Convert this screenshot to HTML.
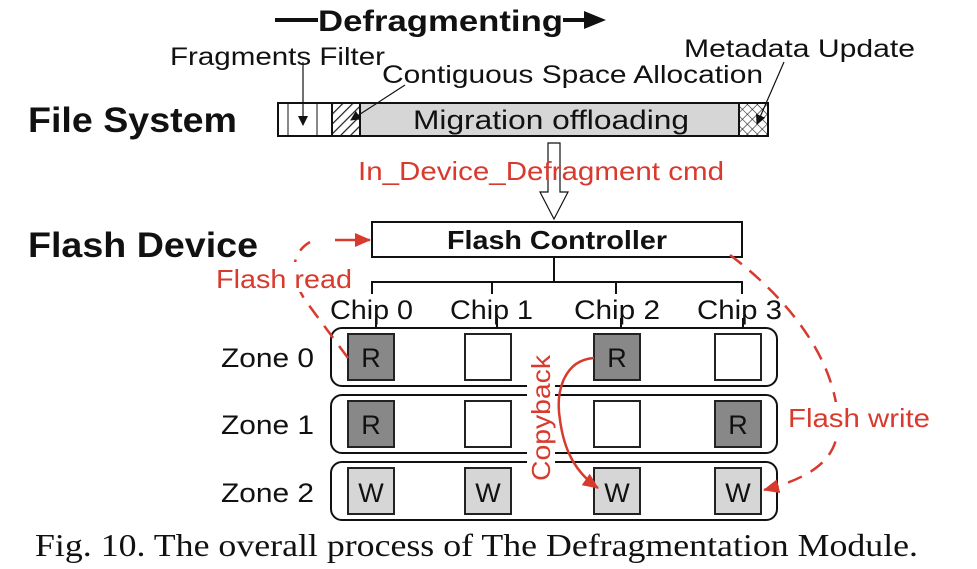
<!DOCTYPE html>
<html><head><meta charset="utf-8"><style>
html,body{margin:0;padding:0;background:#fff;}
svg{display:block;}
text{font-family:"Liberation Sans","DejaVu Sans",sans-serif;}
</style></head><body>
<svg width="977" height="569" viewBox="0 0 977 569" xmlns="http://www.w3.org/2000/svg">
<defs>
<pattern id="hatch" width="7" height="7" patternUnits="userSpaceOnUse" patternTransform="rotate(45)">
<rect width="7" height="7" fill="#fff"/><line x1="0" y1="0" x2="0" y2="7" stroke="#222" stroke-width="2.5"/></pattern>
<pattern id="cross" width="7" height="7" patternUnits="userSpaceOnUse" patternTransform="rotate(45)">
<rect width="7" height="7" fill="#fff"/><line x1="0" y1="0" x2="0" y2="7" stroke="#222" stroke-width="1.2"/><line x1="0" y1="0" x2="7" y2="0" stroke="#222" stroke-width="1.2"/></pattern>
<marker id="ab" markerWidth="10" markerHeight="10" refX="9" refY="5" orient="auto" markerUnits="userSpaceOnUse"><path d="M0,0 L10,5 L0,10 Z" fill="#111"/></marker>
<marker id="ar" markerWidth="16" markerHeight="14" refX="15" refY="7" orient="auto" markerUnits="userSpaceOnUse"><path d="M0,0 L16,7 L0,14 Z" fill="#d83a2e"/></marker>
</defs>

<line x1="275" y1="20" x2="318" y2="20" stroke="#111" stroke-width="4"/>
<text x="318" y="31" font-size="30" font-weight="bold" fill="#111" textLength="245" lengthAdjust="spacingAndGlyphs">Defragmenting</text>
<line x1="563" y1="20" x2="588" y2="20" stroke="#111" stroke-width="4"/>
<path d="M584,11 L606,20 L584,29 Z" fill="#111"/>

<text x="170" y="65" font-size="25" fill="#111" textLength="215" lengthAdjust="spacingAndGlyphs">Fragments Filter</text>
<text x="382" y="83" font-size="25" fill="#111" textLength="381" lengthAdjust="spacingAndGlyphs">Contiguous Space Allocation</text>
<text x="684" y="57" font-size="25" fill="#111" textLength="231" lengthAdjust="spacingAndGlyphs">Metadata Update</text>

<text x="28" y="132" font-size="35" font-weight="bold" fill="#111" textLength="209" lengthAdjust="spacingAndGlyphs">File System</text>
<text x="28" y="257" font-size="35" font-weight="bold" fill="#111" textLength="230" lengthAdjust="spacingAndGlyphs">Flash Device</text>

<rect x="278" y="103" width="54" height="33" fill="#fff" stroke="#111" stroke-width="2"/>
<line x1="288" y1="103" x2="288" y2="136" stroke="#111" stroke-width="1"/>
<line x1="317" y1="103" x2="317" y2="136" stroke="#111" stroke-width="1"/>
<rect x="332" y="103" width="28" height="33" fill="url(#hatch)" stroke="#111" stroke-width="2"/>
<rect x="360" y="103" width="379" height="33" fill="#d6d6d6" stroke="#111" stroke-width="2"/>
<rect x="739" y="103" width="29" height="33" fill="url(#cross)" stroke="#111" stroke-width="2"/>
<text x="413" y="129" font-size="27" fill="#111" textLength="276" lengthAdjust="spacingAndGlyphs">Migration offloading</text>
<line x1="303" y1="62" x2="303" y2="125" stroke="#111" stroke-width="1.2" marker-end="url(#ab)"/>
<line x1="405" y1="85" x2="351" y2="120" stroke="#111" stroke-width="1.2" marker-end="url(#ab)"/>
<line x1="784" y1="62" x2="757" y2="124" stroke="#111" stroke-width="1.2" marker-end="url(#ab)"/>

<path d="M548,143 L560,143 L560,192 L568,192 L554,219 L540,192 L548,192 Z" fill="#fff" stroke="#111" stroke-width="1.2"/>
<text x="358" y="180" font-size="26" fill="#d83a2e" textLength="366" lengthAdjust="spacingAndGlyphs">In_Device_Defragment cmd</text>

<rect x="372" y="222" width="370" height="35" fill="#fff" stroke="#111" stroke-width="2"/>
<text x="447" y="249" font-size="26" font-weight="bold" fill="#111" textLength="220" lengthAdjust="spacingAndGlyphs">Flash Controller</text>
<g stroke="#111" stroke-width="2" fill="none">
<line x1="554" y1="257" x2="554" y2="282"/>
<polyline points="372,294 372,282 742,282 742,294"/>
<line x1="492" y1="282" x2="492" y2="294"/>
<line x1="616" y1="282" x2="616" y2="294"/>
<line x1="376" y1="318" x2="376" y2="330"/>
<line x1="497" y1="318" x2="497" y2="330"/>
<line x1="621" y1="318" x2="621" y2="330"/>
<line x1="743" y1="318" x2="743" y2="330"/>
</g>
<g font-size="27" fill="#111">
<text x="330" y="319" textLength="83" lengthAdjust="spacingAndGlyphs">Chip 0</text>
<text x="450" y="319" textLength="83" lengthAdjust="spacingAndGlyphs">Chip 1</text>
<text x="574" y="319" textLength="86" lengthAdjust="spacingAndGlyphs">Chip 2</text>
<text x="697" y="319" textLength="85" lengthAdjust="spacingAndGlyphs">Chip 3</text>
</g>

<g fill="#fff" stroke="#111" stroke-width="2">
<rect x="331" y="328" width="446" height="58" rx="11"/>
<rect x="331" y="395" width="446" height="58" rx="11"/>
<rect x="331" y="462" width="446" height="58" rx="11"/>
</g>
<g font-size="27" fill="#111">
<text x="221" y="367" textLength="93" lengthAdjust="spacingAndGlyphs">Zone 0</text>
<text x="221" y="434" textLength="93" lengthAdjust="spacingAndGlyphs">Zone 1</text>
<text x="221" y="502" textLength="93" lengthAdjust="spacingAndGlyphs">Zone 2</text>
</g>
<g stroke="#222" stroke-width="2">
<rect x="348" y="334" width="46" height="46" fill="#888"/>
<rect x="465" y="334" width="46" height="46" fill="#fff"/>
<rect x="594" y="334" width="46" height="46" fill="#888"/>
<rect x="715" y="334" width="46" height="46" fill="#fff"/>
<rect x="348" y="401" width="46" height="46" fill="#888"/>
<rect x="465" y="401" width="46" height="46" fill="#fff"/>
<rect x="594" y="401" width="46" height="46" fill="#fff"/>
<rect x="715" y="401" width="46" height="46" fill="#888"/>
<rect x="348" y="468" width="46" height="46" fill="#d6d6d6"/>
<rect x="465" y="468" width="46" height="46" fill="#d6d6d6"/>
<rect x="594" y="468" width="46" height="46" fill="#d6d6d6"/>
<rect x="715" y="468" width="46" height="46" fill="#d6d6d6"/>
</g>
<g font-size="27" fill="#111" text-anchor="middle">
<text x="371" y="367">R</text><text x="617" y="367">R</text>
<text x="371" y="434">R</text><text x="738" y="434">R</text>
<text x="371" y="502">W</text><text x="488" y="502">W</text>
<text x="617" y="502">W</text><text x="738" y="502">W</text>
</g>

<rect x="527" y="350" width="28" height="132" fill="#fff"/>
<text transform="translate(550,481) rotate(-90)" font-size="26" fill="#d83a2e" textLength="126" lengthAdjust="spacingAndGlyphs">Copyback</text>
<path d="M594,358 C565,360 555,390 560,420 C564,450 575,472 598,488" fill="none" stroke="#d83a2e" stroke-width="2.5" marker-end="url(#ar)"/>

<path d="M348,358 L305,300 C292,280 288,255 310,242" fill="none" stroke="#d83a2e" stroke-width="2.5" stroke-dasharray="15,10"/>
<line x1="335" y1="240" x2="370" y2="240" stroke="#d83a2e" stroke-width="2.5" marker-end="url(#ar)"/>
<rect x="215" y="262" width="140" height="30" fill="#fff"/>
<text x="216" y="288" font-size="26" fill="#d83a2e" textLength="136" lengthAdjust="spacingAndGlyphs">Flash read</text>

<path d="M730,255 C790,300 835,360 838,420 C840,460 810,478 764,490" fill="none" stroke="#d83a2e" stroke-width="2.5" stroke-dasharray="15,10" marker-end="url(#ar)"/>
<rect x="786" y="402" width="147" height="30" fill="#fff"/>
<text x="788" y="427" font-size="26" fill="#d83a2e" textLength="142" lengthAdjust="spacingAndGlyphs">Flash write</text>

<text x="35" y="556" font-size="32" fill="#111" style="font-family:'Liberation Serif',serif" textLength="883" lengthAdjust="spacingAndGlyphs">Fig. 10.  The overall process of The Defragmentation Module.</text>
</svg>
</body></html>
